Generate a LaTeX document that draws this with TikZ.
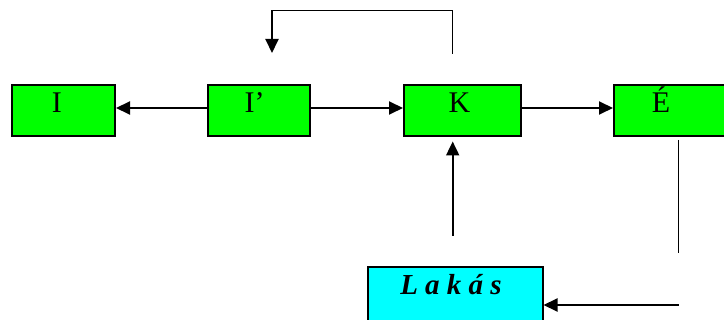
\documentclass[tikz,border=0pt]{standalone}
\usepackage{fontspec}
\setmainfont{Liberation Serif}
\usetikzlibrary{arrows.meta}
\definecolor{boxgreen}{RGB}{0,255,0}
\definecolor{boxcyan}{RGB}{0,255,255}

\begin{document}
\begin{tikzpicture}
[every node/.style={inner sep=0pt},
 box/.style={rectangle, draw=black, line width=2pt, fill=boxgreen, text height=27.5pt, text depth=23.5pt, font=\fontsize{30}{36}\selectfont},
 arr/.style={line width=1.9pt, -{Triangle[length=14pt, width=13pt]}},
 wire/.style={line width=1.9pt}]
\useasboundingbox (0pt, 0pt) rectangle (724pt, -320pt);
\node (I) [box, minimum width=103pt] at (63.5pt, -110.5pt) {I\hspace*{13.5pt}};
\node (Iprime) [box, minimum width=102pt] at (259pt, -110.5pt) {I’\hspace*{9pt}};
\node (K) [box, minimum width=117pt] at (462.5pt, -110.5pt) {K\hspace*{6pt}};
\node (E) [box, minimum width=114pt] at (671pt, -110.5pt) {É\hspace*{20pt}};
\node (Lakas) [rectangle, draw=black, line width=2pt, fill=boxcyan, minimum width=175pt, text height=28pt, text depth=48pt, font=\fontsize{29}{34}\selectfont\bfseries\itshape] at (455pt, -305pt) {L a k á s\hspace*{8pt}};
\coordinate (Edrop) at ([shift={(7.5pt,-3pt)}]E.south);
\draw [arr] ([yshift=2.5pt]Iprime.west) -- ([yshift=2.5pt]I.east);
\draw [arr] ([yshift=2.5pt]Iprime.east) -- ([yshift=2.5pt]K.west);
\draw [arr] ([yshift=2.5pt]K.east) -- ([yshift=2.5pt]E.west);
\draw [arr] ([shift={(-10pt,30pt)}]K.north) -- ++(0pt,43.5pt) -| ([shift={(13pt,31pt)}]Iprime.north);
\draw [arr] ([shift={(-2.3pt,30pt)}]Lakas.north) -- ([shift={(-9.8pt,-4.5pt)}]K.south);
\draw [wire] (Edrop) -- ++(0pt,-113pt);
\draw [arr] (Edrop |- Lakas.east) -- (Lakas.east);
\end{tikzpicture}
\end{document}
